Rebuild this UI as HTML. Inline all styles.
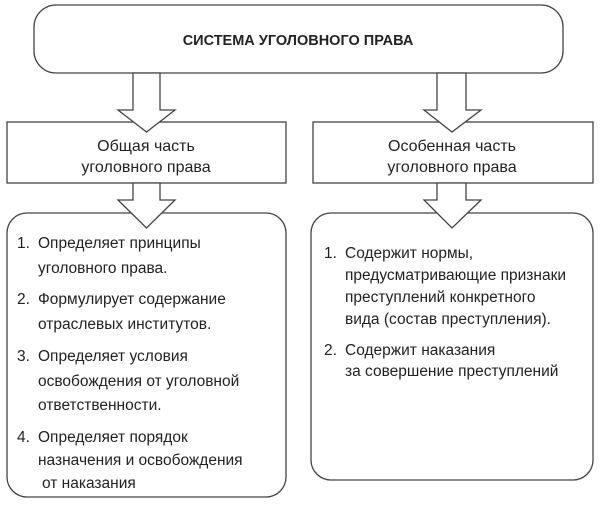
<!DOCTYPE html>
<html><head><meta charset="utf-8"><style>
html,body{margin:0;padding:0;background:#fff;}
svg text{font-family:"Liberation Sans",sans-serif;fill:#222;}
</style></head><body>
<svg width="600" height="503" viewBox="0 0 600 503" xmlns="http://www.w3.org/2000/svg">
<g fill="#fff" stroke="#444" stroke-width="1.3">
<rect x="34" y="5" width="529" height="68" rx="22"/>
<rect x="7" y="122" width="279" height="61"/>
<rect x="313" y="122" width="280" height="61"/>
<rect x="7" y="213" width="279" height="284" rx="20"/>
<rect x="311" y="213" width="282" height="267" rx="20"/>
<polygon points="133,73 160,73 160,110 175,110 146.5,132 118,110 133,110"/>
<polygon points="437,73 466,73 466,110 481,110 452,132 424,110 437,110"/>
<polygon points="133,183 160,183 160,200 175,200 146.5,228 118,200 133,200"/>
<polygon points="437,183 466,183 466,200 481,200 452,228 424,200 437,200"/>
</g>
<text x="298" y="45" font-size="14.5" font-weight="bold" text-anchor="middle">СИСТЕМА УГОЛОВНОГО ПРАВА</text>
<g font-size="16" text-anchor="middle">
<text x="146" y="151">Общая часть</text>
<text x="146" y="172">уголовного права</text>
<text x="452" y="151">Особенная часть</text>
<text x="452" y="172">уголовного права</text>
</g>
<g font-size="15.5">
<text x="17" y="248">1.</text><text x="38" y="248">Определяет принципы</text>
<text x="38" y="273">уголовного права.</text>
<text x="17" y="304">2.</text><text x="38" y="304">Формулирует содержание</text>
<text x="38" y="329">отраслевых институтов.</text>
<text x="17" y="361">3.</text><text x="38" y="361">Определяет условия</text>
<text x="38" y="386">освобождения от уголовной</text>
<text x="38" y="410">ответственности.</text>
<text x="17" y="442">4.</text><text x="38" y="442">Определяет порядок</text>
<text x="38" y="465">назначения и освобождения</text>
<text x="42" y="488">от наказания</text>
<text x="324" y="258">1.</text><text x="345" y="258">Содержит нормы,</text>
<text x="345" y="280">предусматривающие признаки</text>
<text x="345" y="302">преступлений конкретного</text>
<text x="345" y="324">вида (состав преступления).</text>
<text x="324" y="355">2.</text><text x="345" y="355">Содержит наказания</text>
<text x="345" y="376">за совершение преступлений</text>
</g>
</svg>
</body></html>
